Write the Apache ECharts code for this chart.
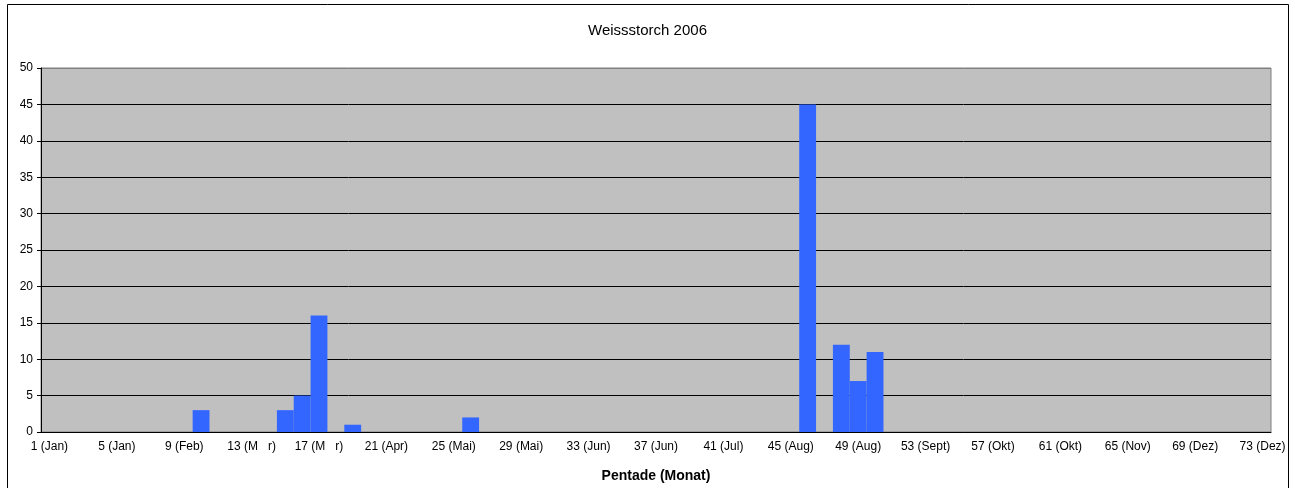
<!DOCTYPE html>
<html>
<head>
<meta charset="utf-8">
<script src="https://cdn.jsdelivr.net/npm/echarts@6/dist/echarts.min.js"></script>
<style>
  html, body { margin: 0; padding: 0; background: #fff; }
  #main { width: 1295px; height: 488px; }
</style>
</head>
<body>
<div id="main"></div>
<script>
// Pentade 1..73, label on every 4th
var tickLabels = ['1 (Jan)', '5 (Jan)', '9 (Feb)', '13 (M   r)', '17 (M   r)', '21 (Apr)', '25 (Mai)',
    '29 (Mai)', '33 (Jun)', '37 (Jun)', '41 (Jul)', '45 (Aug)', '49 (Aug)', '53 (Sept)',
    '57 (Okt)', '61 (Okt)', '65 (Nov)', '69 (Dez)', '73 (Dez)'];

// Anzahl je Pentade (nur Pentaden mit Beobachtungen)
var pentaden = [10, 15, 16, 17, 19, 26, 46, 48, 49, 50];
var anzahl   = [3, 3, 5, 16, 1, 2, 45, 12, 7, 11];

var categories = [];
var values = [];
for (var i = 1; i <= 73; i++) {
    categories.push((i - 1) % 4 === 0 ? tickLabels[(i - 1) / 4] : String(i));
    var k = pentaden.indexOf(i);
    values.push(k >= 0 ? anzahl[k] : 0);
}

// split lines 0..50: black, top one grey like the plot border
var gridColors = ['#000', '#000', '#000', '#000', '#000', '#000', '#000', '#000', '#000', '#000', '#808080'];

var font = 'Liberation Sans, Arial, sans-serif';
var chart = echarts.init(document.getElementById('main'));
chart.setOption({
    animation: false,
    backgroundColor: '#fff',
    textStyle: { fontFamily: font },
    title: {
        text: 'Weissstorch 2006',
        left: 'center',
        top: 18,
        textStyle: { fontSize: 15, fontWeight: 'normal', color: '#000', fontFamily: font }
    },
    graphic: [{
        type: 'rect',
        shape: { x: 7.5, y: 4.5, width: 1281, height: 490 },
        style: { fill: 'none', stroke: '#000', lineWidth: 1 },
        silent: true
    }],
    grid: {
        left: 41, right: 24, top: 68, bottom: 56,
        show: true,
        backgroundColor: '#C0C0C0',
        borderColor: '#808080',
        borderWidth: 1
    },
    xAxis: {
        type: 'category',
        data: categories,
        boundaryGap: true,
        name: 'Pentade (Monat)',
        nameLocation: 'middle',
        nameGap: 37,
        nameTextStyle: { fontSize: 14, fontWeight: 'bold', color: '#000', fontFamily: font },
        axisLine: { lineStyle: { color: '#000', width: 1 } },
        axisTick: { interval: 0, length: 4, lineStyle: { color: '#000' } },
        axisLabel: { interval: 3, fontSize: 12, color: '#000', margin: 9 },
        splitLine: { show: false }
    },
    yAxis: {
        type: 'value',
        min: 0, max: 50, interval: 5,
        axisLine: { show: true, lineStyle: { color: '#000' } },
        axisTick: { show: true, length: 4, lineStyle: { color: '#000' } },
        axisLabel: { fontSize: 12, color: '#000', margin: 8 },
        splitLine: { lineStyle: { color: gridColors, width: 1 } }
    },
    series: [{
        type: 'bar',
        data: values,
        barCategoryGap: '0%',
        itemStyle: { color: '#3366FF' }
    }]
});
</script>
</body>
</html>
